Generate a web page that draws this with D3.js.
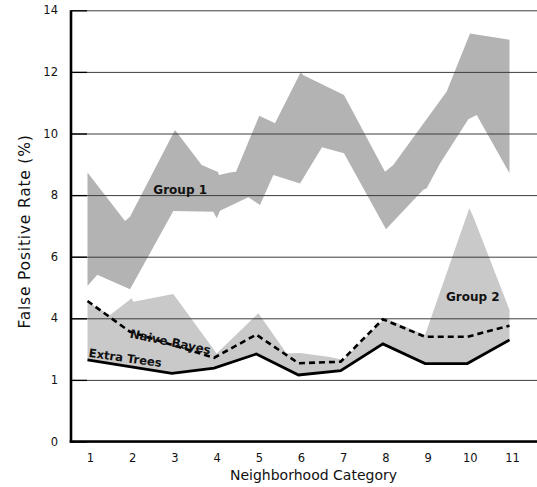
<!DOCTYPE html>
<html>
<head>
<meta charset="utf-8">
<script src="https://cdn.jsdelivr.net/npm/d3@7"></script>
<style>
  html, body { margin: 0; padding: 0; background: #fff; }
  svg { display: block; }
  text { font-family: "DejaVu Sans", Verdana, sans-serif; }
</style>
</head>
<body>
<svg id="chart" width="537" height="487"></svg>
<script>
// ---- data ----
const categories = [1, 2, 3, 4, 5, 6, 7, 8, 9, 10, 11];
const tickValues = [0, 2, 4, 6, 8, 10, 12, 14];
const tickLabels = ["0", "1", "4", "6", "8", "10", "12", "14"];

const naiveBayes = [4.56, 3.57, 3.14, 2.72, 3.47, 2.54, 2.59, 3.97, 3.40, 3.40, 3.76];
const extraTrees = [2.65, 2.43, 2.21, 2.38, 2.84, 2.16, 2.30, 3.17, 2.53, 2.53, 3.30];

// band outlines: [category position, value]
const group1Upper = [[1.0, 8.73], [1.889, 7.16], [2.007, 7.30], [3.073, 10.11], [3.706, 8.98],
  [4.092, 8.75], [4.116, 8.65], [4.377, 8.73], [4.519, 8.76], [5.071, 10.58], [5.443, 10.33],
  [6.052, 11.99], [6.107, 11.90], [7.078, 11.25], [8.05, 8.76], [8.246, 8.98], [9.512, 11.36],
  [10.064, 13.25], [11.0, 13.04]];
const group1Lower = [[1.0, 5.05], [1.232, 5.41], [2.007, 4.94], [3.033, 7.48], [3.981, 7.46],
  [4.062, 7.25], [4.14, 7.49], [4.81, 7.93], [5.088, 7.68], [5.403, 8.65], [6.036, 8.38],
  [6.557, 9.55], [7.078, 9.36], [8.073, 6.89], [8.957, 8.17], [9.038, 8.22], [9.353, 9.03],
  [10.024, 10.46], [10.223, 10.60], [11.0, 8.71]];
const group2Upper = [[1.0, 4.53], [1.533, 4.11], [2.047, 4.65], [2.085, 4.54], [3.033, 4.79],
  [4.062, 2.86], [5.048, 4.16], [5.72, 2.86], [6.036, 2.87], [6.747, 2.74], [7.055, 2.65],
  [8.05, 4.01], [8.998, 3.46], [10.047, 7.57], [10.142, 7.30], [11.0, 4.27]];

const groupLabels = ["Group 1", "Group 2"];
const seriesLabels = ["Naive Bayes", "Extra Trees"];

// ---- drawing ----
const svg = d3.select("#chart");
const W = 537, H = 487;
const axisX = 71;

const x = d3.scaleLinear().domain([1, 11]).range([87.5, 509.5]);
const y = d3.scaleLinear().domain([0, 14]).range([441.5, 10.3]);

const area = d3.line().x(d => x(d[0])).y(d => y(d[1]));

// Group 1 band
const g1poly = group1Upper.concat(group1Lower.slice().reverse());
svg.append("path").attr("d", area(g1poly) + "Z").attr("fill", "#b3b3b3");

// Group 2 band: upper outline down to Extra Trees
const etPts = categories.map((c, i) => [c, extraTrees[i]]);
const g2poly = group2Upper.concat(etPts.slice().reverse());
svg.append("path").attr("d", area(g2poly) + "Z").attr("fill", "#c9c9c9");

// gridlines + labels
const yAxis = d3.axisLeft(y)
  .tickValues(tickValues)
  .tickFormat((d, i) => tickLabels[i])
  .tickSize(-(W - axisX))
  .tickPadding(13);
const gy = svg.append("g").attr("transform", `translate(${axisX},0)`).call(yAxis);
gy.select(".domain").remove();
gy.selectAll(".tick line").attr("stroke", "#3c3c3c").attr("stroke-width", 1);
gy.selectAll(".tick text").attr("font-size", 11.5).attr("fill", "#111")
  .style("font-family", '"DejaVu Sans", Verdana, sans-serif');

// short inner tick marks
const yTicks = d3.axisLeft(y).tickValues(tickValues).tickFormat("").tickSize(-16);
const gt = svg.append("g").attr("transform", `translate(${axisX},0)`).call(yTicks);
gt.select(".domain").remove();
gt.selectAll(".tick line").attr("stroke", "#000").attr("stroke-width", 1.3);

// x axis labels
const xAxis = d3.axisBottom(x).tickValues(categories).tickFormat(d3.format("d"))
  .tickSize(0).tickPadding(12.5);
const gx = svg.append("g").attr("transform", `translate(0,${y(0)})`).call(xAxis);
gx.select(".domain").remove();
gx.selectAll(".tick text").attr("font-size", 11.5).attr("fill", "#111").attr("dx", 2.5)
  .style("font-family", '"DejaVu Sans", Verdana, sans-serif');

// axis lines
svg.append("line").attr("x1", axisX).attr("x2", axisX).attr("y1", y(14)).attr("y2", y(0) + 1.2)
  .attr("stroke", "#000").attr("stroke-width", 2.6);
svg.append("line").attr("x1", axisX - 1.3).attr("x2", W).attr("y1", y(0)).attr("y2", y(0))
  .attr("stroke", "#000").attr("stroke-width", 2.6);

// series lines
const line = d3.line().x((d, i) => x(categories[i])).y(d => y(d));
svg.append("path").datum(naiveBayes).attr("d", line)
  .attr("fill", "none").attr("stroke", "#000").attr("stroke-width", 2.6)
  .attr("stroke-dasharray", "6,4");
svg.append("path").datum(extraTrees).attr("d", line)
  .attr("fill", "none").attr("stroke", "#000").attr("stroke-width", 2.8)
  .attr("stroke-linejoin", "miter");

// annotations
svg.append("text").attr("x", x(2.56)).attr("y", y(8.04)).text(groupLabels[0])
  .attr("font-size", 12).attr("font-weight", "bold").attr("fill", "#111");
svg.append("text").attr("x", x(9.495)).attr("y", y(4.55)).text(groupLabels[1])
  .attr("font-size", 12).attr("font-weight", "bold").attr("fill", "#111");
svg.append("text").attr("transform", `translate(${x(1.99)},${y(3.38)}) rotate(12)`)
  .text(seriesLabels[0]).attr("font-size", 12).attr("font-weight", "bold").attr("fill", "#111");
svg.append("text").attr("transform", `translate(${x(1.02)},${y(2.75)}) rotate(8)`)
  .text(seriesLabels[1]).attr("font-size", 11.6).attr("font-weight", "bold").attr("fill", "#111");

// axis titles
svg.append("text").attr("x", 313.5).attr("y", 480).attr("text-anchor", "middle")
  .attr("font-size", 14).attr("fill", "#111").text("Neighborhood Category");
svg.append("text").attr("transform", "translate(30,231.5) rotate(-90)").attr("text-anchor", "middle")
  .attr("font-size", 15.5).attr("letter-spacing", 0.8).attr("fill", "#111").text("False Positive Rate (%)");
</script>
</body>
</html>
